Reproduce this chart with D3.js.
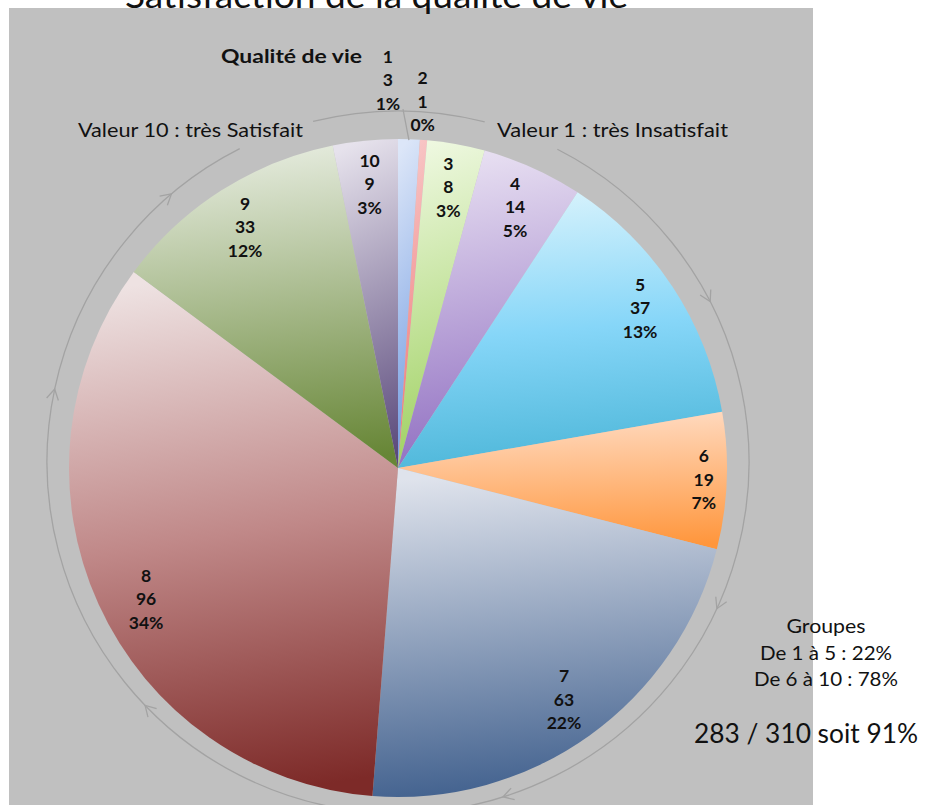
<!DOCTYPE html>
<html>
<head>
<meta charset="utf-8">
<script src="https://cdn.jsdelivr.net/npm/d3@7"></script>
<style>
  body { margin: 0; background: #fff; }
  svg { display: block; }
  text { font-family: Lato, "Open Sans", sans-serif; fill: #111; }
</style>
</head>
<body>
<div id="chart"></div>
<script>

// data
const categories = ["1", "2", "3", "4", "5", "6", "7", "8", "9", "10"]
const counts = [3, 1, 8, 14, 37, 19, 63, 96, 33, 9]
const groupLines = ["Groupes", "De 1 à 5 : 22%", "De 6 à 10 : 78%"]
const summaryText = "283 / 310 soit 91%"
const titleText = "Satisfaction de la qualité de vie"
const seriesName = "Qualité de vie"
const startLabel = "Valeur 1 : très Insatisfait"
const endLabel = "Valeur 10 : très Satisfait"

// styling: gradient light (top) -> dark (bottom) per slice, optional middle stop
const lightColors = ["#dce6f8", "#f8c8c8", "#eef8e0", "#e8e0f2", "#d6f2fc", "#ffdcc4", "#dfe3ec", "#eee2e2", "#e6ecdf", "#e6e2ec"]
const midColors   = [null, null, null, null, "#86d6f8", null, null, "#c08888", null, null]
const darkColors  = ["#6d98e0", "#ee7070", "#9ccf5c", "#8e6cc0", "#4cb6d8", "#ff963c", "#3e5e8c", "#7d2a28", "#678636", "#5b4a7c"]

// label layout (px from centre, angle nudge in degrees)
const labelRadius = [388, 367, 285, 286, 290, 306, 285, 284, 285, 285]
const labelNudge = [-3.4, -0.6, 0, 0, 0, 0, 0, -3, 0, 0]

const width = 926, height = 805
const cx = 398, cy = 468, R = 329
const ringCx = 398, ringCy = 462, ringR = 351
const deg = Math.PI / 180

const total = d3.sum(counts)
const data = categories.map((c, i) => ({cat: c, count: counts[i], pct: Math.round(counts[i] / total * 100) + "%"}))

const svg = d3.select("#chart").append("svg")
    .attr("width", width)
    .attr("height", height)

// grey plot background
svg.append("rect")
    .attr("x", 9).attr("y", 8)
    .attr("width", 804).attr("height", height - 8)
    .attr("fill", "#c0c0c0")

const defs = svg.append("defs")
data.forEach((d, i) => {
    const lg = defs.append("linearGradient")
        .attr("id", "grad" + i)
        .attr("x1", 0.45).attr("y1", 0).attr("x2", 0.55).attr("y2", 1)
    lg.append("stop").attr("offset", "0%").attr("stop-color", lightColors[i])
    if (midColors[i]) lg.append("stop").attr("offset", "50%").attr("stop-color", midColors[i])
    lg.append("stop").attr("offset", "100%").attr("stop-color", darkColors[i])
})

// pie
const pie = d3.pie().sort(null).value(d => d.count)
const arcs = pie(data)
const arc = d3.arc().innerRadius(0).outerRadius(R)

const gPie = svg.append("g").attr("transform", `translate(${cx},${cy})`)
gPie.selectAll("path")
    .data(arcs)
    .join("path")
    .attr("d", arc)
    .attr("fill", (d, i) => `url(#grad${i})`)

// ring with arrows around the pie
const polar = (r, a) => [r * Math.sin(a), -r * Math.cos(a)]
const gRing = svg.append("g")
    .attr("transform", `translate(${ringCx},${ringCy})`)
    .attr("fill", "none")
    .attr("stroke", "#a3a3a3")
    .attr("stroke-width", 1.3)

function ringArc(a0, a1) {
    const p = d3.path()
    const s = polar(ringR, a0 * deg)
    p.moveTo(s[0], s[1])
    p.arc(0, 0, ringR, a0 * deg - Math.PI / 2, a1 * deg - Math.PI / 2)
    return p.toString()
}
gRing.append("path").attr("d", ringArc(-14, 14.3))
gRing.append("path").attr("d", ringArc(27, 333.2))

const arrowAngles = [62.8, 114.7, 162.6, 226.1, 282, 319.8]
arrowAngles.forEach(a => {
    const t = a * deg
    const tip = polar(ringR, t)
    const dir = Math.atan2(Math.sin(t), Math.cos(t)) // clockwise tangent
    const arm = s => {
        const b = dir + Math.PI + s * 30 * deg
        return [tip[0] + 12 * Math.cos(b), tip[1] + 12 * Math.sin(b)]
    }
    const p1 = arm(1), p2 = arm(-1)
    gRing.append("path")
        .attr("d", `M${p1[0]},${p1[1]}L${tip[0]},${tip[1]}L${p2[0]},${p2[1]}`)
})

// leader line for the first slice
{
    const a = (arcs[0].startAngle + arcs[0].endAngle) / 2
    const q = polar(ringR + 2, a - 1.1 * deg)
    const p0 = [ringCx - cx + q[0], ringCy - cy + q[1]]
    const p1 = polar(R - 1, a)
    gPie.append("line")
        .attr("x1", p0[0]).attr("y1", p0[1])
        .attr("x2", p1[0]).attr("y2", p1[1])
        .attr("stroke", "#a3a3a3")
        .attr("stroke-width", 1.3)
}

// data labels
const lineGap = 23.5
const labels = gPie.selectAll("text.lbl")
    .data(arcs)
    .join("text")
    .attr("class", "lbl")
    .attr("text-anchor", "middle")
    .attr("font-weight", "bold")
    .attr("font-size", 17.5)
    .attr("transform", (d, i) => {
        const a = (d.startAngle + d.endAngle) / 2 + labelNudge[i] * deg
        const p = polar(labelRadius[i], a)
        return `translate(${p[0]},${p[1]})`
    })
labels.each(function(d) {
    const t = d3.select(this)
    const rows = [d.data.cat, d.data.count, d.data.pct]
    rows.forEach((r, k) => {
        t.append("tspan").attr("x", 0).attr("y", (k - 1) * lineGap + 6).text(r)
    })
})

// texts
svg.append("text")
    .attr("x", 125).attr("y", 8)
    .attr("font-size", 34)
    .attr("textLength", 503).attr("lengthAdjust", "spacingAndGlyphs")
    .text(titleText)

svg.append("text")
    .attr("x", 221).attr("y", 63)
    .attr("font-size", 19).attr("font-weight", "bold")
    .attr("textLength", 141).attr("lengthAdjust", "spacingAndGlyphs")
    .text(seriesName)

svg.append("text")
    .attr("x", 78).attr("y", 137)
    .attr("font-size", 20)
    .attr("textLength", 225).attr("lengthAdjust", "spacingAndGlyphs")
    .text(endLabel)

svg.append("text")
    .attr("x", 497).attr("y", 137)
    .attr("font-size", 20)
    .attr("textLength", 231).attr("lengthAdjust", "spacingAndGlyphs")
    .text(startLabel)

const groupWidths = [79, 132, 144]
svg.append("g").selectAll("text")
    .data(groupLines)
    .join("text")
    .attr("x", 826)
    .attr("y", (d, i) => 633 + i * 26.5)
    .attr("text-anchor", "middle")
    .attr("font-size", 20)
    .attr("textLength", (d, i) => groupWidths[i]).attr("lengthAdjust", "spacingAndGlyphs")
    .text(d => d)

svg.append("text")
    .attr("x", 694).attr("y", 743)
    .attr("font-size", 26)
    .attr("textLength", 224).attr("lengthAdjust", "spacingAndGlyphs")
    .text(summaryText)

</script>
</body>
</html>
